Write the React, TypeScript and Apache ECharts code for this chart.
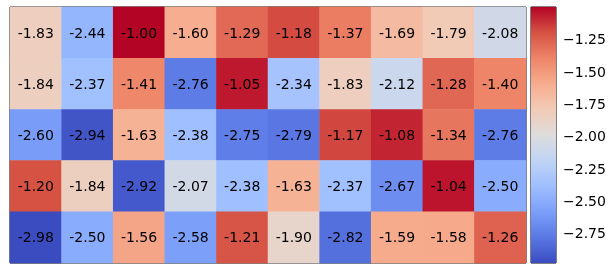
import React, { useEffect, useRef } from "react";
import * as echarts from "echarts";

const columns = ["0", "1", "2", "3", "4", "5", "6", "7", "8", "9"];
const rows = ["0", "1", "2", "3", "4"];

const row0 = [-1.83, -2.44, -1.0, -1.6, -1.29, -1.18, -1.37, -1.69, -1.79, -2.08];
const row1 = [-1.84, -2.37, -1.41, -2.76, -1.05, -2.34, -1.83, -2.12, -1.28, -1.4];
const row2 = [-2.6, -2.94, -1.63, -2.38, -2.75, -2.79, -1.17, -1.08, -1.34, -2.76];
const row3 = [-1.2, -1.84, -2.92, -2.07, -2.38, -1.63, -2.37, -2.67, -1.04, -2.5];
const row4 = [-2.98, -2.5, -1.56, -2.58, -1.21, -1.9, -2.82, -1.59, -1.58, -1.26];

const colorbarTicks = [-2.75, -2.5, -2.25, -2.0, -1.75, -1.5, -1.25];

const coolwarm = [
  "#3b4cc0", "#5a78e4", "#7b9ff9", "#9ebeff", "#c0d4f5", "#dddcdc",
  "#f2cbb7", "#f7ac8e", "#ee8468", "#d65244", "#b40426",
];

export default function App() {
  const ref = useRef<HTMLDivElement>(null);
  useEffect(() => {
    if (!ref.current) return;
    const chart = echarts.init(ref.current, null, { renderer: "svg" });
    const allRows = [row0, row1, row2, row3, row4];
    const data: [number, number, number][] = [];
    allRows.forEach((r, yi) => r.forEach((v, xi) => data.push([xi, yi, v])));
    const flat = allRows.flat();
    const vmin = Math.min(...flat);
    const vmax = Math.max(...flat);
    const font = "DejaVu Sans";
    const n = coolwarm.length;
    const stops = coolwarm.map((_, i) => ({ offset: i / (n - 1), color: coolwarm[n - 1 - i] }));
    chart.setOption({
      animation: false,
      textStyle: { fontFamily: font },
      grid: [
        { left: 10, top: 7, width: 516, height: 256, show: true, borderColor: "#000", borderWidth: 1, backgroundColor: "transparent" },
        { left: 531, top: 7, width: 25, height: 256, show: true, borderColor: "#000", borderWidth: 1, backgroundColor: "transparent" },
      ],
      xAxis: [
        { type: "category", data: columns, gridIndex: 0, show: false },
        { type: "value", gridIndex: 1, show: false, min: 0, max: 1 },
      ],
      yAxis: [
        { type: "category", data: rows, gridIndex: 0, show: false, inverse: true },
        {
          type: "value",
          gridIndex: 1,
          position: "right",
          min: vmin,
          max: vmax,
          splitLine: { show: false },
          axisLine: { show: false },
          axisTick: { show: true, length: 4, lineStyle: { color: "#000", width: 1 }, customValues: colorbarTicks },
          axisLabel: {
            show: true,
            customValues: colorbarTicks,
            margin: 7,
            color: "#000",
            fontSize: 14,
            fontFamily: font,
            formatter: (v: number) => v.toFixed(2).replace("-", "\u2212"),
          },
        },
      ],
      visualMap: [
        {
          type: "continuous",
          min: vmin,
          max: vmax,
          seriesIndex: 0,
          dimension: 2,
          show: false,
          inRange: { color: coolwarm },
        },
      ],
      series: [
        {
          type: "heatmap",
          xAxisIndex: 0,
          yAxisIndex: 0,
          data,
          itemStyle: { borderWidth: 0 },
          label: {
            show: true,
            color: "#000",
            fontSize: 14,
            fontFamily: font,
            formatter: (p: any) => p.value[2].toFixed(2),
          },
          emphasis: { disabled: true },
        },
        {
          type: "custom",
          xAxisIndex: 1,
          yAxisIndex: 1,
          data: [[0, vmin, vmax]],
          renderItem: (params: any, api: any) => {
            const top = api.coord([0, vmax]);
            const bottom = api.coord([1, vmin]);
            return {
              type: "rect",
              shape: { x: top[0], y: top[1], width: bottom[0] - top[0], height: bottom[1] - top[1] },
              style: { fill: new echarts.graphic.LinearGradient(0, 0, 0, 1, stops) },
            };
          },
          z: 1,
          silent: true,
        },
      ],
    });
    return () => chart.dispose();
  }, []);
  return <div ref={ref} style={{ position: "fixed", left: 0, top: 0, width: 616, height: 264 }} />;
}
